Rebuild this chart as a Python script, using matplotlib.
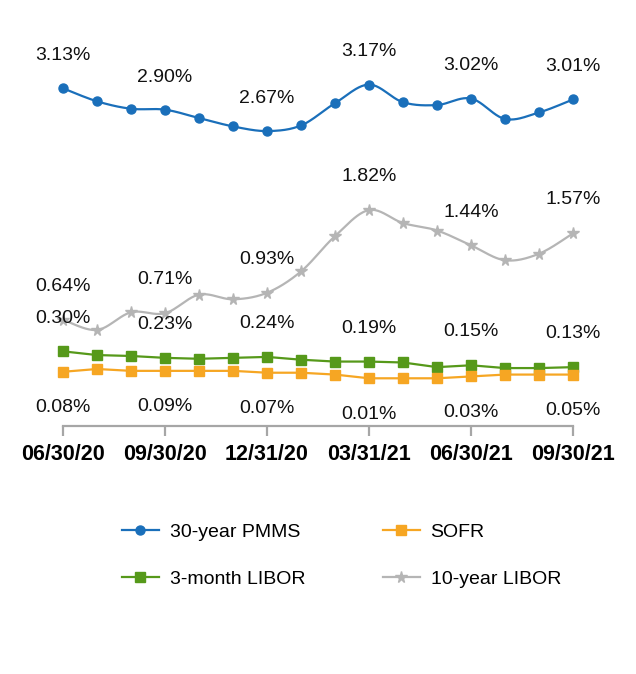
import numpy as np
import matplotlib
matplotlib.use('Agg')
import matplotlib.pyplot as plt

plt.rcParams['font.family'] = ['Liberation Sans', 'DejaVu Sans']

# data, monthly 06/30/20 .. 09/30/21
dates = ['06/30/20', '07/31/20', '08/31/20', '09/30/20', '10/31/20', '11/30/20',
	'12/31/20', '01/31/21', '02/28/21', '03/31/21', '04/30/21', '05/31/21',
	'06/30/21', '07/31/21', '08/31/21', '09/30/21']
pmms = [3.13, 2.99, 2.91, 2.90, 2.81, 2.72, 2.67, 2.73, 2.97, 3.17, 2.98, 2.95,
	3.02, 2.80, 2.87, 3.01]
libor_10y = [0.64, 0.53, 0.72, 0.71, 0.91, 0.86, 0.93, 1.16, 1.54, 1.82, 1.68, 1.60,
	1.44, 1.28, 1.35, 1.57]
libor_3m = [0.30, 0.26, 0.25, 0.23, 0.22, 0.23, 0.24, 0.21, 0.19, 0.19, 0.18, 0.13,
	0.15, 0.12, 0.12, 0.13]
sofr = [0.08, 0.11, 0.09, 0.09, 0.09, 0.09, 0.07, 0.07, 0.05, 0.01, 0.01, 0.01,
	0.03, 0.05, 0.05, 0.05]
tick_idx = [0, 3, 6, 9, 12, 15]


def smooth(x, y, n=24):
	# catmull-rom style bezier between points, like a "smoothed line"
	x = np.asarray(x, float)
	y = np.asarray(y, float)
	px = np.concatenate([[x[0]], x, [x[-1]]])
	py = np.concatenate([[y[0]], y, [y[-1]]])
	t = np.linspace(0, 1, n)[:, None]
	xs, ys = [], []
	for i in range(1, len(px) - 2):
		p0 = np.array([px[i], py[i]])
		p3 = np.array([px[i+1], py[i+1]])
		c1 = p0 + (p3 - np.array([px[i-1], py[i-1]])) / 6
		c2 = p3 - (np.array([px[i+2], py[i+2]]) - p0) / 6
		b = (1-t)**3*p0 + 3*(1-t)**2*t*c1 + 3*(1-t)*t**2*c2 + t**3*p3
		xs.append(b[:, 0])
		ys.append(b[:, 1])
	return np.concatenate(xs), np.concatenate(ys)


fig = plt.figure(figsize=(6.36, 6.74), dpi=100)
ax = fig.add_axes([0.0991, 0.3684, 0.8019, 0.5723])
x = np.arange(len(dates))

# order = legend order (filled column by column)
series = [
	(pmms, '30-year PMMS', '#1a6fba', 'o', 6.5, True, 23.5),
	(libor_3m, '3-month LIBOR', '#56991a', 's', 6.5, False, 24),
	(sofr, 'SOFR', '#f6a623', 's', 6.5, False, -26),
	(libor_10y, '10-year LIBOR', '#b5b5b5', '*', 8.5, True, 24),
]
for vals, name, col, mk, ms, smoothed, off in series:
	if smoothed:
		sx, sy = smooth(x, vals)
	else:
		sx, sy = x, vals
	ax.plot(sx, sy, color=col, lw=1.6, clip_on=False, zorder=2)
	ax.plot(x, vals, color=col, marker=mk, ms=ms, lw=0, clip_on=False, zorder=3)
	ax.plot([], [], color=col, marker=mk, ms=ms, lw=1.6, label=name)
	for i in tick_idx:
		ax.annotate(f'{vals[i]:.2f}%', (x[i], vals[i]), xytext=(0, off),
			textcoords='offset points', ha='center', va='center',
			fontsize=14, color='#111111', zorder=4)

ax.set_xlim(0, 15)
ax.set_ylim(-0.5, 3.65)
ax.set_yticks([])
for s in ['top', 'right', 'left']:
	ax.spines[s].set_visible(False)
ax.spines['bottom'].set_color('#a6a6a6')
ax.spines['bottom'].set_linewidth(1.6)
ax.set_xticks(tick_idx)
ax.set_xticklabels([dates[i] for i in tick_idx], fontsize=15.5, fontweight='bold')
ax.tick_params(axis='x', length=7.5, width=1.6, color='#a6a6a6', pad=6)

fig.legend(loc='center left', bbox_to_anchor=(122/636, 0.1753), ncol=2, frameon=False,
	fontsize=14, handlelength=1.9, handletextpad=0.55, columnspacing=4.0,
	labelspacing=1.5, borderaxespad=0, borderpad=0)

fig.savefig('out.png', dpi=100)
